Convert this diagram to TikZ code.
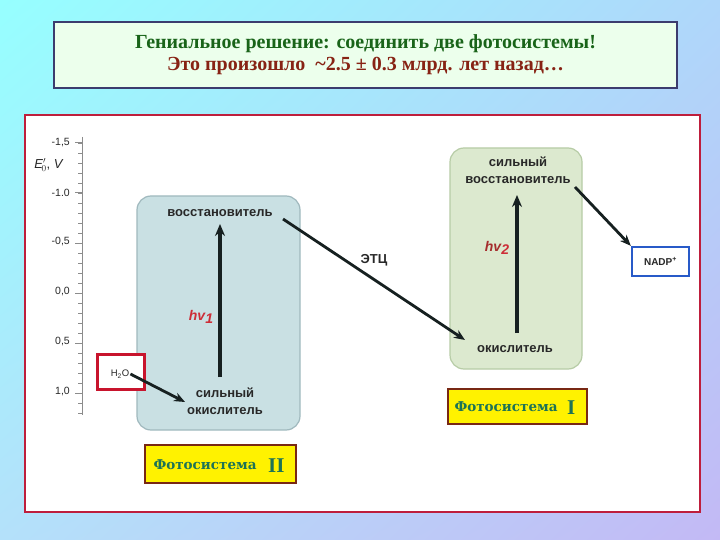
\documentclass[tikz,border=0pt]{standalone}
\usepackage{fontspec}
\setmainfont{Liberation Serif}
\setsansfont{Liberation Sans}
\newfontfamily\fsfont{DejaVu Serif}
\usetikzlibrary{arrows.meta,shadings}
\definecolor{bgTL}{RGB}{150,255,255}
\definecolor{bgTR}{RGB}{175,215,250}
\definecolor{bgBL}{RGB}{180,225,250}
\definecolor{bgBR}{RGB}{195,185,245}
\definecolor{titlefill}{RGB}{236,255,236}
\definecolor{titleborder}{RGB}{60,60,110}
\definecolor{titlegreen}{RGB}{25,100,25}
\definecolor{titlered}{RGB}{135,35,20}
\definecolor{panelborder}{RGB}{190,30,60}
\definecolor{ps2fill}{RGB}{201,224,227}
\definecolor{ps2border}{RGB}{160,185,190}
\definecolor{ps1fill}{RGB}{220,233,207}
\definecolor{ps1border}{RGB}{183,204,166}
\definecolor{arrowcol}{RGB}{22,32,32}
\definecolor{hvred}{RGB}{205,45,55}
\definecolor{hvdark}{RGB}{165,45,45}
\definecolor{fsgreen}{RGB}{30,115,85}
\definecolor{fsborder}{RGB}{120,40,20}
\definecolor{h2oborder}{RGB}{200,20,45}
\definecolor{nadpborder}{RGB}{40,90,200}
\definecolor{axiscol}{RGB}{140,140,140}
\definecolor{labcol}{RGB}{40,40,40}
\tikzset{
  lbl/.style={font=\sffamily\bfseries\fontsize{13}{17}\selectfont, text=labcol, inner sep=0pt, align=center},
  arr/.style={draw=arrowcol, line width=3.6pt, -{Stealth[length=12pt,width=10pt]}},
  arrthin/.style={draw=arrowcol, line width=2.8pt, -{Stealth[length=11pt,width=9pt]}},
  psbox/.style={rounded corners=14pt, line width=1.2pt, inner sep=0pt},
  fsbox/.style={draw=fsborder, fill=yellow, line width=1.5pt, inner sep=0pt},
  fstext/.style={font=\fsfont\bfseries\fontsize{13.5}{15}\selectfont, text=fsgreen},
  ticklab/.style={font=\sffamily\fontsize{10.5}{12}\selectfont, text=labcol, anchor=east, inner sep=0pt},
  hv/.style={font=\sffamily\bfseries\itshape\fontsize{14}{16}\selectfont, inner sep=0pt}
}
\begin{document}
\begin{tikzpicture}[x=1pt,y=-1pt]
\useasboundingbox (0,0) rectangle (720,540);
\shade[upper left=bgTL, upper right=bgTR, lower left=bgBL, lower right=bgBR] (0,0) rectangle (720,540);
% title
\node[draw=titleborder, fill=titlefill, line width=1.3pt, minimum width=623pt, minimum height=66pt, inner sep=0pt, align=center, font=\bfseries\fontsize{20}{22}\selectfont] (title) at (365.5,55)
 {\textcolor{titlegreen}{Гениальное решение: соединить две фотосистемы!}\\
  \textcolor{titlered}{Это произошло~~\textasciitilde2.5 ± 0.3 млрд. лет назад…}};
% panel
\node[draw=panelborder, fill=white, line width=1.5pt, minimum width=675pt, minimum height=397pt, inner sep=0pt] (panel) at (362.5,313.5) {};
% axis
\draw[axiscol, line width=1pt] (82,137) -- (82,415);
\foreach \y in {143,153,...,413} \draw[axiscol, line width=0.8pt] (78,\y) -- (82,\y);
\foreach \y in {143,193,...,393} \draw[axiscol, line width=1pt] (75,\y) -- (82,\y);
\node[ticklab] (t1) at (70,143) {-1,5};
\node[ticklab] (t2) at (70,193) {-1.0};
\node[ticklab] (t3) at (70,242) {-0,5};
\node[ticklab] (t4) at (70,292) {0,0};
\node[ticklab] (t5) at (70,342) {0,5};
\node[ticklab] (t6) at (70,392) {1,0};
\node[font=\sffamily\fontsize{13}{15}\selectfont, text=labcol, inner sep=0pt] (elab) at (49,165) {\textit{E}$'_{\!0}$, \textit{V}};
% photosystem boxes
\node[psbox, fill=ps2fill, draw=ps2border, minimum width=163pt, minimum height=234pt] (ps2) at (218.5,313) {};
\node[psbox, fill=ps1fill, draw=ps1border, minimum width=132pt, minimum height=221pt] (ps1) at (516,258.5) {};
% PS II texts
\node[lbl] (red1) at (220,213) {восстановитель};
\node[lbl] (ox1) at (225,401) {сильный\\окислитель};
\node[hv] (hv1) at (201,317) {\textcolor{hvred}{hv\raisebox{-3pt}{1}}};
\coordinate (a1s) at (220,377);
\coordinate (a1e) at (220,224);
\draw[arr] (a1s) -- (a1e);
% H2O
\node[draw=h2oborder, fill=white, line width=2.4pt, minimum width=47pt, minimum height=35pt, inner sep=0pt] (h2obox) at (121,372) {};
\node[font=\sffamily\fontsize{9.5}{11}\selectfont, text=labcol, inner sep=1pt] (h2o) at (120,374) {H\textsubscript{2}O};
\coordinate (ox1in) at (185,402);
\draw[arrthin] (h2o.east) -- (ox1in);
% PS I texts
\node[lbl] (red2) at (518,170) {сильный\\восстановитель};
\node[lbl] (ox2) at (515,349) {окислитель};
\node[hv] (hv2) at (497,248) {\textcolor{hvdark}{hv}\textcolor{hvred}{\raisebox{-3pt}{2}}};
\coordinate (a2s) at (517,333);
\coordinate (a2e) at (517,195);
\draw[arr] (a2s) -- (a2e);
% ETC
\coordinate (etcs) at (283,219);
\coordinate (etce) at (465,340);
\draw[arrthin] (etcs) -- (etce);
\node[lbl] (etc) at (374,260) {ЭТЦ};
% NADP
\node[draw=nadpborder, fill=white, line width=2.4pt, minimum width=57pt, minimum height=29pt, inner sep=0pt, font=\sffamily\bfseries\fontsize{10}{12}\selectfont, text=labcol] (nadp) at (660.5,261.5) {NADP\textsuperscript{+}};
\coordinate (red2out) at (575,187);
\draw[arrthin] (red2out) -- (nadp.north west);
% Photosystem labels
\node[fsbox, minimum width=151pt, minimum height=38pt] (fs2) at (220.5,464) {};
\node[fstext, anchor=base west] (fs2t) at (150,469) {Фотосистема};
\node[font=\bfseries\fontsize{21}{21}\selectfont, text=fsgreen, anchor=base west, inner sep=0pt] (fs2n) at (268,472) {II};
\node[fsbox, minimum width=139pt, minimum height=35pt] (fs1) at (517.5,406.5) {};
\node[fstext, anchor=base west] (fs1t) at (451,411) {Фотосистема};
\node[font=\bfseries\fontsize{21}{21}\selectfont, text=fsgreen, anchor=base west, inner sep=0pt] (fs1n) at (567,414) {I};
\end{tikzpicture}
\end{document}
